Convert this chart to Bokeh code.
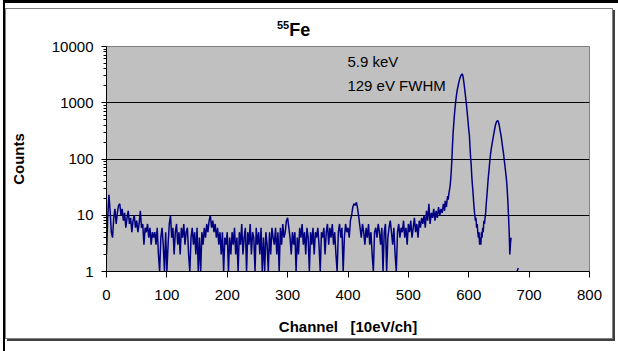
from bokeh.plotting import figure
from bokeh.models import Range1d, FixedTicker, NumeralTickFormatter, Label, ColumnDataSource, Div
from bokeh.layouts import column
from bokeh.embed import file_html
from bokeh.resources import INLINE

# ---- data ----
noise_channels = list(range(0, 560, 2))
noise_counts = [
    2, 9, 23, 12, 5,   4, 9, 13, 7, 11,   15, 16, 10, 13, 8,   11, 6, 9, 12, 7,
    9, 5, 8, 10, 6,    8, 5, 7, 12, 6,    7, 3, 6, 5, 7,      4, 6, 3, 5, 4,
    5, 3, 6, 2, 1,     4, 6, 3, 1, 5,     1, 3, 7, 10, 4,     6, 2, 5, 7, 3,
    5, 2, 6, 4, 7,     3, 5, 6, 2, 1,     4, 6, 3, 5, 2,      6, 1, 4, 1, 5,
    3, 6, 4, 7, 5,     8, 10, 6, 8, 5,    7, 4, 6, 3, 5,      2, 5, 1, 4, 3,
    5, 1, 4, 2, 5,     3, 6, 2, 4, 1,     5, 3, 7, 2, 4,      6, 1, 5, 3, 7,
    2, 5, 4, 1, 6,     3, 5, 2, 6, 1,     4, 1, 5, 3, 1,      5, 2, 6, 4, 3,
    6, 2, 5, 1, 6,     3, 7, 4, 5, 8,     9, 6, 4, 2, 5,      3, 5, 1, 4, 2,
    6, 4, 7, 3, 5,     2, 6, 4, 1, 5,     3, 6, 2, 5, 4,      6, 3, 1, 5, 4,
    6, 2, 5, 7, 3,     6, 4, 7, 3, 5,     2, 1, 5, 7, 4,      6, 1, 4, 7, 5,
    6, 4, 8, 10, 14,   16, 15, 17, 13, 9, 6, 4, 7, 5, 3,      6, 4, 7, 3, 5,
    2, 1, 5, 6, 4,     7, 5, 3, 6, 1,     5, 7, 1, 4, 6,      8, 5, 3, 6, 2,
    1, 5, 7, 4, 6,     5, 8, 4, 6, 3,     7, 5, 8, 4, 6,      9, 5, 7, 4, 8,
    6, 9, 7, 10, 6,    12, 8, 16, 7, 11,  9, 13, 8, 12, 9,    14, 10, 13, 11, 16,
]

peak_channels = list(range(560, 671))
peak_counts = [
    12, 18, 16, 14, 18, 22, 19, 24, 28, 32,
    42, 60, 95, 170, 280, 400, 560, 750, 960, 1200,
    1450, 1700, 1900, 2150, 2400, 2650, 2850, 3050, 3150, 3250,
    3100, 2700, 2250, 1850, 1500, 1200, 980, 760, 580, 440,
    330, 270, 170, 110, 80, 50, 35, 26, 18, 13,
    10, 8, 9, 6, 7, 5, 4, 5, 3, 4,
    3, 5, 4, 6, 5, 8, 7, 9, 11, 16,
    22, 30, 42, 55, 72, 95, 120, 145, 170, 195,
    225, 260, 300, 345, 390, 430, 458, 475, 480, 460,
    420, 370, 320, 280, 240, 200, 165, 140, 115, 92,
    75, 60, 48, 37, 25, 16, 9, 5, 2, 3, 4,
]

tail_channels = [680, 682]
tail_counts = [1, 1.15]

x_ticks = [0, 100, 200, 300, 400, 500, 600, 700, 800]
y_ticks = [1, 10, 100, 1000, 10000]
y_minor = [k * 10 ** e for e in range(4) for k in range(2, 10)]

title_sup = "55"
title_main = "Fe"
note1 = "5.9 keV"
note2 = "129 eV FWHM"
x_label = "Channel\u00a0\u00a0\u00a0[10eV/ch]"
y_label = "Counts"

FONT = "Liberation Sans"

xs = noise_channels + peak_channels + [float("nan")] + tail_channels
ys = noise_counts + peak_counts + [float("nan")] + tail_counts
src = ColumnDataSource(dict(x=xs, y=ys))

title_div = Div(
    text=('<div style="margin:0; padding:0; padding-left:272px; padding-top:12px; '
          'font-family:\'Liberation Sans\'; font-weight:bold; font-size:18px; color:#000; '
          'line-height:20px; white-space:nowrap;">'
          '<span style="font-size:11px; position:relative; top:-7px;">' + title_sup + '</span>'
          + title_main + '</div>'),
    width=608, height=25, styles={"margin": "0", "padding": "0", "overflow": "visible"})

p = figure(width=608, height=306, output_backend="svg", toolbar_location=None,
           x_range=Range1d(0, 800), y_range=Range1d(1, 10000), y_axis_type="log",
           title=None, min_border_left=101, min_border_right=24,
           min_border_top=13, min_border_bottom=68)
p.background_fill_color = "#C0C0C0"
p.border_fill_color = None
p.outline_line_color = "#808080"
p.outline_line_width = 1

p.xgrid.visible = False
p.ygrid.ticker = FixedTicker(ticks=y_ticks)
p.ygrid.grid_line_color = "#000000"
p.ygrid.grid_line_width = 1

p.xaxis.ticker = FixedTicker(ticks=x_ticks)
p.yaxis.ticker = FixedTicker(ticks=y_ticks, minor_ticks=y_minor)
p.yaxis.formatter = NumeralTickFormatter(format="0")
p.xaxis.formatter = NumeralTickFormatter(format="0")

for ax in (p.xaxis[0], p.yaxis[0]):
    ax.axis_line_color = "black"
    ax.major_tick_line_color = "black"
    ax.major_tick_in = 0
    ax.major_label_text_font = FONT
    ax.major_label_text_font_size = "15px"
    ax.major_label_text_color = "black"
    ax.axis_label_text_font = FONT
    ax.axis_label_text_font_size = "15px"
    ax.axis_label_text_font_style = "bold"
    ax.axis_label_text_color = "black"

p.xaxis.major_tick_out = 6
p.xaxis.minor_tick_line_color = None
p.xaxis.major_label_standoff = 12
p.xaxis.axis_label = x_label
p.xaxis.axis_label_standoff = 15

p.yaxis.major_tick_out = 5
p.yaxis.minor_tick_out = 3
p.yaxis.minor_tick_in = 0
p.yaxis.minor_tick_line_color = "black"
p.yaxis.major_label_standoff = 8
p.yaxis.axis_label = y_label
p.yaxis.axis_label_standoff = 22

p.line("x", "y", source=src, line_color="#000080", line_width=1.5)

p.add_layout(Label(x=399, y=5410, text=note1, text_font=FONT, text_font_size="15px",
                   text_color="black", text_baseline="alphabetic"))
p.add_layout(Label(x=399, y=2060, text=note2, text_font=FONT, text_font_size="15px",
                   text_color="black", text_baseline="alphabetic"))

layout = column(title_div, p, spacing=0,
                styles={"transform": "translate(5px, 8px)", "background-color": "#ffffff",
                        "outline": "1px solid #808080", "outline-offset": "-1px",
                        "box-shadow": "2px 2px 0 0 #404040, 10px 5px 0 10px #ffffff, 8px 2px 0 10px #000000"})

open("out.html", "w").write(file_html(layout, INLINE))
